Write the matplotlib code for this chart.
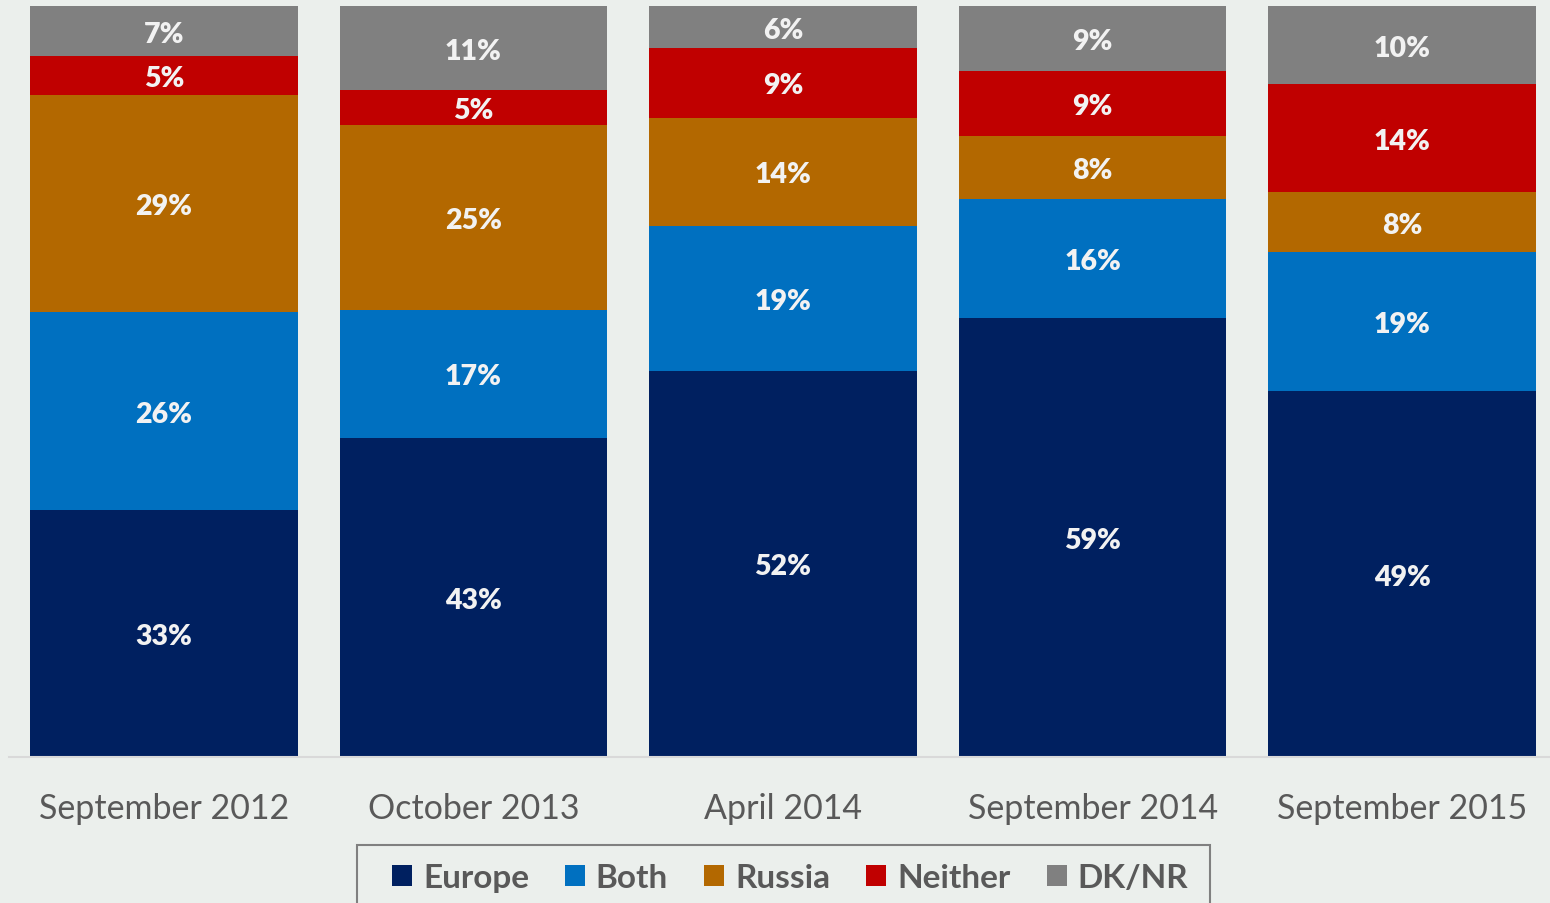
import matplotlib
matplotlib.use("Agg")
import matplotlib.pyplot as plt
from matplotlib.patches import Patch, Rectangle
import numpy as np

categories = ["September 2012", "October 2013", "April 2014", "September 2014", "September 2015"]
series = ["Europe", "Both", "Russia", "Neither", "DK/NR"]
# label values (as printed)
europe = [33, 43, 52, 59, 49]
both = [26, 17, 19, 16, 19]
russia = [29, 25, 14, 8, 8]
neither = [5, 5, 9, 9, 14]
dknr = [7, 11, 6, 9, 10]
# segment shares (unrounded)
europe_share = [32.9, 42.5, 51.4, 58.6, 48.7]
both_share = [26.4, 17.0, 19.3, 15.9, 18.5]
russia_share = [29.0, 24.6, 14.4, 8.3, 8.0]
neither_share = [5.1, 4.7, 9.3, 8.7, 14.4]
dknr_share = [6.7, 11.2, 5.6, 8.7, 10.4]

colors = ["#002060", "#0070C0", "#B36800", "#C00000", "#808080"]
bg = "#EBEFEC"

plt.rcParams['font.family'] = ['Lato', 'DejaVu Sans']

fig = plt.figure(figsize=(15.5, 9.04), dpi=100, facecolor=bg)
ax = fig.add_axes([9/1550, (904-758)/904, (1550-9)/1550, 751/904])
ax.set_facecolor(bg)

labels = np.array([europe, both, russia, neither, dknr])
shares = np.array([europe_share, both_share, russia_share, neither_share, dknr_share])
frac = shares / shares.sum(axis=0)
x = np.arange(len(categories))
bottom = np.zeros(len(categories))
for i, name in enumerate(series):
    ax.bar(x, frac[i], 268/310, bottom=bottom, color=colors[i], label=name, zorder=2)
    for j in range(len(categories)):
        ax.text(x[j], bottom[j] + frac[i][j] / 2, f"{labels[i][j]}%",
                ha="center", va="center_baseline", color="#F2F2F2", fontsize=20.5,
                fontweight="heavy", zorder=3)
    bottom += frac[i]

ax.set_xlim(-0.5, 4.5 - 7/310)
ax.set_ylim(0, 1)
for s in ["top", "right", "left"]:
    ax.spines[s].set_visible(False)
ax.spines["bottom"].set_color("#D9D9D9")
ax.spines["bottom"].set_linewidth(1.5)
ax.set_yticks([])
ax.set_xticks(x)
ax.set_xticklabels(categories, fontsize=24.5, color="#595959")
ax.tick_params(axis="x", length=0, pad=25)

handles = [Patch(facecolor=c, edgecolor="none", label=n) for c, n in zip(colors, series)]
leg = fig.legend(handles=handles, loc="center", bbox_to_anchor=(790/1550, (904-879)/904),
                 ncol=5, frameon=False, prop={"size": 24, "weight": "bold"},
                 handlelength=0.6, handleheight=0.6, handletextpad=0.33, columnspacing=1.08,
                 borderpad=0, borderaxespad=0)
for t in leg.get_texts():
    t.set_color("#595959")

fig.patches.append(Rectangle((357/1550, -0.05), (1210-357)/1550, 0.05 + (904-846)/904,
                             transform=fig.transFigure, facecolor="none",
                             edgecolor="#808080", linewidth=1.5, zorder=5))

fig.savefig("out.png", dpi=100, facecolor=bg)
